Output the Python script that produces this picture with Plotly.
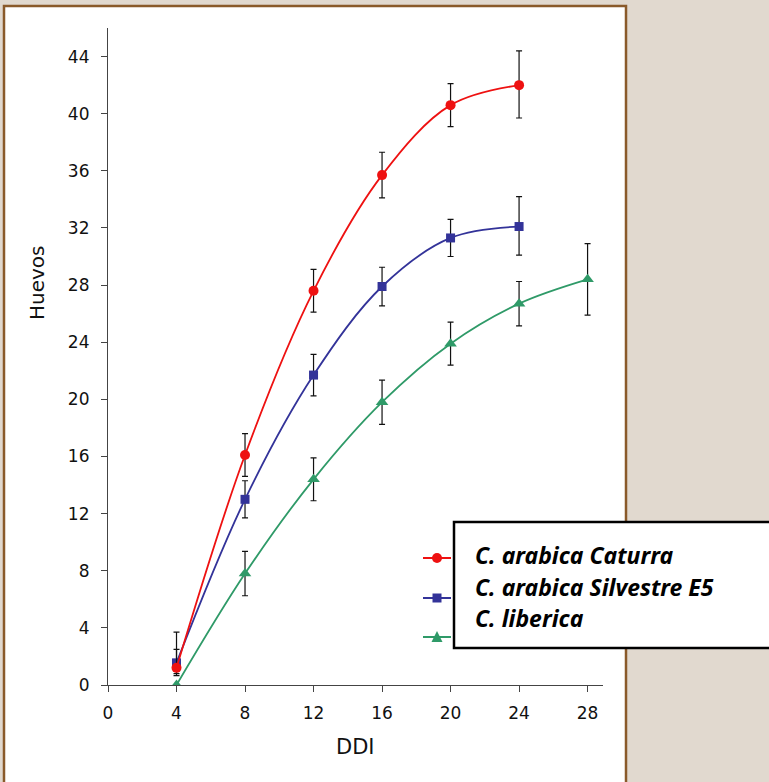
import plotly.graph_objects as go

# ---- data ----
ddi = [4, 8, 12, 16, 20, 24, 28]

caturra = [1.2, 16.1, 27.6, 35.7, 40.6, 42.0]
caturra_err_plus = [1.3, 1.5, 1.5, 1.6, 1.5, 2.4]
caturra_err_minus = [0.4, 1.5, 1.5, 1.6, 1.5, 2.3]

silvestre = [1.55, 13.0, 21.7, 27.9, 31.3, 32.1]
silvestre_err_plus = [2.15, 1.3, 1.45, 1.35, 1.3, 2.1]
silvestre_err_minus = [0.9, 1.3, 1.45, 1.35, 1.3, 2.0]

liberica = [0.0, 7.8, 14.4, 19.8, 23.9, 26.7, 28.4]
liberica_err = [0.0, 1.55, 1.5, 1.55, 1.5, 1.55, 2.5]

series_names = ["C. arabica Caturra", "C. arabica Silvestre E5", "C. liberica"]
x_ticks = [0, 4, 8, 12, 16, 20, 24, 28]
y_ticks = [0, 4, 8, 12, 16, 20, 24, 28, 32, 36, 40, 44]

# ---- geometry helpers (pixel -> paper) ----
W, H = 769, 782
L, R, T, B = 108, 603, 28, 685
def px(x):
    return (x - L) / (R - L)
def py(y):
    return (B - y) / (B - T)

RED, BLUE, GREEN = "#ee1111", "#333399", "#2f9a68"

fig = go.Figure()

def add(x, y, ep, em, color, sym, size):
    fig.add_trace(go.Scatter(
        x=x, y=y, mode="lines+markers",
        line=dict(color=color, width=1.8, shape="spline", smoothing=1),
        marker=dict(color=color, symbol=sym, size=size),
        error_y=dict(type="data", array=ep, arrayminus=em, symmetric=False,
                     color="#111111", thickness=1.2, width=3),
        showlegend=False, cliponaxis=True))

add(ddi, liberica, liberica_err, liberica_err, GREEN, "triangle-up", 11)
add(ddi[:6], silvestre, silvestre_err_plus, silvestre_err_minus, BLUE, "square", 9)
add(ddi[:6], caturra, caturra_err_plus, caturra_err_minus, RED, "circle", 10)

shapes = []
# white panel with brown border
shapes.append(dict(type="rect", xref="paper", yref="paper", layer="below",
                   x0=px(4), x1=px(626), y0=py(800), y1=py(6),
                   fillcolor="white", line=dict(color="#8a5a2a", width=2.5)))
# legend box
shapes.append(dict(type="rect", xref="paper", yref="paper", layer="above",
                   x0=px(454), x1=px(790), y0=py(648), y1=py(522),
                   fillcolor="white", line=dict(color="black", width=2.5)))
# legend samples
samp_y = [558, 598, 637]
cols = [RED, BLUE, GREEN]
for yy, c in zip(samp_y, cols):
    shapes.append(dict(type="line", xref="paper", yref="paper",
                       x0=px(423), x1=px(451), y0=py(yy), y1=py(yy),
                       line=dict(color=c, width=2)))
shapes.append(dict(type="circle", xref="paper", yref="paper",
                   x0=px(432), x1=px(442), y0=py(563), y1=py(553),
                   fillcolor=RED, line=dict(color=RED, width=0)))
shapes.append(dict(type="rect", xref="paper", yref="paper",
                   x0=px(432.5), x1=px(441.5), y0=py(602.5), y1=py(593.5),
                   fillcolor=BLUE, line=dict(color=BLUE, width=0)))
shapes.append(dict(type="path", xref="paper", yref="paper",
                   path="M %f,%f L %f,%f L %f,%f Z" % (px(431.5), py(642), px(442.5), py(642), px(437), py(631)),
                   fillcolor=GREEN, line=dict(color=GREEN, width=0)))

annotations = []
for yy, name in zip([555, 587, 618], series_names):
    annotations.append(dict(xref="paper", yref="paper", x=px(473), y=py(yy),
                            xanchor="left", yanchor="middle", showarrow=False,
                            text="<b><i>%s</i></b>" % name,
                            font=dict(family="Noto Sans", size=23, color="black")))
annotations.append(dict(xref="paper", yref="paper", x=px(37), y=py(283),
                        text="Huevos", textangle=-90, showarrow=False,
                        xanchor="center", yanchor="middle",
                        font=dict(family="DejaVu Sans", size=20, color="#111")))
annotations.append(dict(xref="paper", yref="paper", x=px(355), y=py(747),
                        text="DDI", showarrow=False,
                        xanchor="center", yanchor="middle",
                        font=dict(family="DejaVu Sans", size=21, color="#111")))

axis_common = dict(showline=True, linecolor="#444", linewidth=1.2,
                   ticks="outside", ticklen=6, tickcolor="#444", tickwidth=1,
                   showgrid=False, zeroline=False,
                   tickfont=dict(family="DejaVu Sans", size=17, color="#111"))

fig.update_layout(
    width=W, height=H,
    margin=dict(l=L, r=W - R, t=T, b=H - B, pad=0),
    paper_bgcolor="#e1d9cf", plot_bgcolor="rgba(0,0,0,0)",
    xaxis=dict(range=[0, 28.9], tickvals=x_ticks, ticklabelstandoff=6, **axis_common),
    yaxis=dict(range=[0, 46], tickvals=y_ticks, ticklabelstandoff=8, **axis_common),
    shapes=shapes, annotations=annotations, showlegend=False,
)

fig.write_html("out.html")
